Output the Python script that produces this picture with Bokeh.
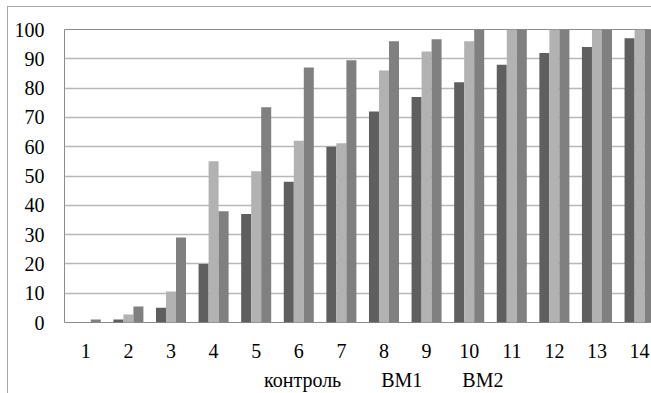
from bokeh.plotting import figure
from bokeh.layouts import column
from bokeh.models import ColumnDataSource, FixedTicker, Legend, LegendItem, Range1d
from bokeh.transform import dodge
from bokeh.embed import file_html
from bokeh.resources import INLINE

days = list(range(1, 15))
tick_labels = [str(d) for d in days]
control = [0, 1, 5, 20, 37, 48, 60, 72, 77, 82, 88, 92, 94, 97]
vm1 = [0, 2.7, 10.6, 55, 51.6, 62, 61.2, 86, 92.5, 96, 100, 100, 100, 100]
vm2 = [1, 5.5, 29, 38, 73.5, 87, 89.5, 96, 96.7, 100, 100, 100, 100, 100]
series_names = ["контроль", "ВМ1", "ВМ2"]
colors = ["#5f5f5f", "#b2b2b2", "#808080"]

src = ColumnDataSource(dict(x=days, control=control, vm1=vm1, vm2=vm2))

p = figure(width=643, height=361, output_backend="svg", toolbar_location=None,
           x_range=(0.5, 14.28), y_range=(0, 100),
           min_border_left=56, min_border_right=0, min_border_top=22, min_border_bottom=46)

w = 0.235
p.vbar(x=dodge("x", -w, range=p.x_range), top="control", width=w, source=src,
       fill_color=colors[0], line_color=None)
p.vbar(x=dodge("x", 0, range=p.x_range), top="vm1", width=w, source=src,
       fill_color=colors[1], line_color=None)
p.vbar(x=dodge("x", w, range=p.x_range), top="vm2", width=w, source=src,
       fill_color=colors[2], line_color=None)

font = "Liberation Serif"
p.xaxis.ticker = FixedTicker(ticks=days)
p.xaxis.major_label_overrides = {d: t for d, t in zip(days, tick_labels)}
p.yaxis.ticker = FixedTicker(ticks=list(range(0, 101, 10)))
for ax in (p.xaxis[0], p.yaxis[0]):
    ax.axis_line_color = None
    ax.major_tick_line_color = None
    ax.minor_tick_line_color = None
    ax.major_tick_out = 0
    ax.major_tick_in = 0
    ax.minor_tick_out = 0
    ax.minor_tick_in = 0
    ax.major_label_text_font = font
    ax.major_label_text_font_size = "20px"
    ax.major_label_text_color = "#000000"
p.xaxis.major_label_standoff = 21
p.yaxis.major_label_standoff = 20

p.xgrid.grid_line_color = None
p.ygrid.grid_line_color = "#b8b8b8"
p.ygrid.grid_line_width = 1.5
p.outline_line_color = "#8c8c8c"
p.outline_line_width = 1

# legend strip below the chart
lg = figure(width=643, height=25, output_backend="svg", toolbar_location=None,
            x_range=Range1d(0, 1), y_range=Range1d(0, 1),
            x_axis_type=None, y_axis_type=None,
            min_border_left=0, min_border_right=0, min_border_top=0, min_border_bottom=0)
lg.outline_line_color = None
lg.xgrid.visible = False
lg.ygrid.visible = False
key_renderers = [lg.vbar(x=[], top=[], width=0.1, fill_color=c, line_color=None) for c in colors]

legend = Legend(items=[LegendItem(label=n, renderers=[r]) for n, r in zip(series_names, key_renderers)],
                orientation="horizontal", location=(180, 1),
                glyph_width=12, glyph_height=12, label_standoff=8, spacing=20,
                label_height=18,
                padding=0, margin=0, border_line_color=None, background_fill_alpha=0,
                label_text_font=font, label_text_font_size="20px", label_text_color="#000000")
lg.add_layout(legend)

layout = column(p, lg, spacing=0)
layout.styles = {"border-left": "1px solid #a6a6a6", "border-top": "1px solid #a6a6a6",
                 "margin-left": "7px", "margin-top": "6px"}

open("out.html", "w").write(file_html(layout, INLINE))
